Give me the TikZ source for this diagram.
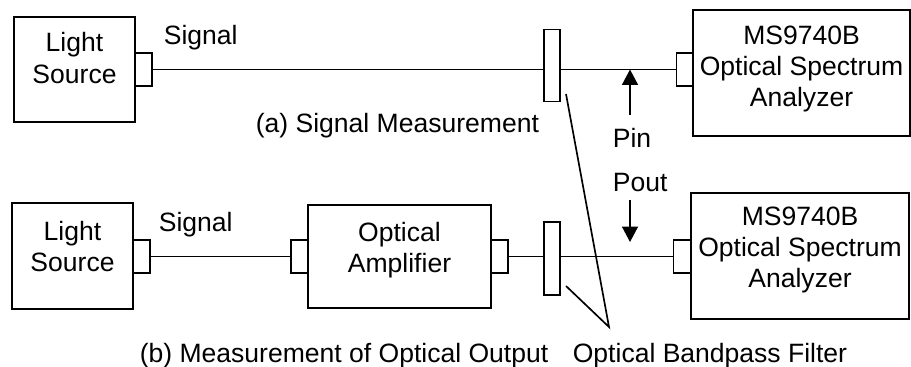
\documentclass[tikz,border=0pt]{standalone}
\usepackage{fontspec}
\setmainfont{Liberation Sans}
\usetikzlibrary{arrows.meta}

\begin{document}
\begin{tikzpicture}[x=0.02cm, y=-0.02cm, line width=0.95pt,
		box/.style={draw, rectangle, inner sep=0pt, outer sep=0pt},
		port/.style={draw, rectangle, fill=white, inner sep=0pt, outer sep=0pt, minimum width=0.34cm, minimum height=0.66cm},
		filt/.style={draw, rectangle, fill=white, inner sep=0pt, outer sep=0pt, minimum width=0.32cm, minimum height=1.44cm},
		txt/.style={inner sep=0pt, align=center, font=\fontsize{15.1}{17.9}\selectfont},
		pointer/.style={-{Triangle[width=0.32cm, length=0.31cm]}}]
			\useasboundingbox (0,0) rectangle (911,367);
			
			% (a) signal measurement
			\node[box, minimum width=2.42cm, minimum height=2.10cm] (src1) at (74.5,69.5) {};
			\node[txt] (src1txt) at (74.5,58) {Light\\Source};
			\node[port] (port1) at (143.5,69.5) {};
			\node[filt] (filt1) at (552,65.5) {};
			\node[port] (port2) at (685,69.5) {};
			\node[box, minimum width=4.34cm, minimum height=2.52cm] (osa1) at (801.5,73) {};
			\node[txt] (osa1txt) at (801.5,69) {MS9740B\\Optical Spectrum\\Analyzer};
			
			\node[txt, anchor=base west] (sig1) at (163,45) {Signal};
			\node[txt, anchor=base west] (capa) at (255,133) {(a) Signal Measurement};
			\node[txt, anchor=base west] (pin) at (612,148) {Pin};
			\node[txt, anchor=base west] (pout) at (612,192) {Pout};
			
			\draw (port1.east) to (port1.east -| filt1.west);
			\draw (filt1.east |- port2) to (port2.west);
			
			\coordinate (pinTail) at (630,115);
			\draw[pointer] (pinTail) to (pinTail |- port2);
			
			% (b) measurement of optical output
			\node[box, minimum width=2.42cm, minimum height=2.12cm] (src2) at (72.5,256) {};
			\node[txt] (src2txt) at (72.5,246.5) {Light\\Source};
			\node[port] (port3) at (141.5,256.5) {};
			\node[port] (port4) at (299.5,256.5) {};
			\node[box, minimum width=3.66cm, minimum height=2.06cm] (amp) at (399.5,256.5) {};
			\node[txt] (amptxt) at (399.5,250) {Optical\\Amplifier};
			\node[port] (port5) at (499.5,256.5) {};
			\node[filt, minimum height=1.46cm] (filt2) at (552,258.5) {};
			\node[port] (port6) at (682,256.5) {};
			\node[box, minimum width=4.36cm, minimum height=2.52cm] (osa2) at (800,256) {};
			\node[txt] (osa2txt) at (800,250) {MS9740B\\Optical Spectrum\\Analyzer};
			
			\node[txt, anchor=base west] (sig2) at (158,232) {Signal};
			\node[txt, anchor=base west] (capb) at (139,362) {(b) Measurement of Optical Output};
			\node[txt, anchor=base west] (bpf) at (572,362) {Optical Bandpass Filter};
			
			\draw (port3) to (port4);
			\draw (port5.east) to (port5.east -| filt2.west);
			\draw (filt2.east |- port6) to (port6.west);
			
			\coordinate (poutTail) at (630,200);
			\coordinate (poutTip) at (630,242);
			\draw[pointer] (poutTail) to (poutTip);
			
			% leaders to the filters
			\coordinate (lead1) at (566,94);
			\coordinate (lead2) at (566,286);
			\coordinate (leadTip) at (609,327);
			\draw (lead1) to (leadTip) to (lead2);
\end{tikzpicture}
\end{document}
